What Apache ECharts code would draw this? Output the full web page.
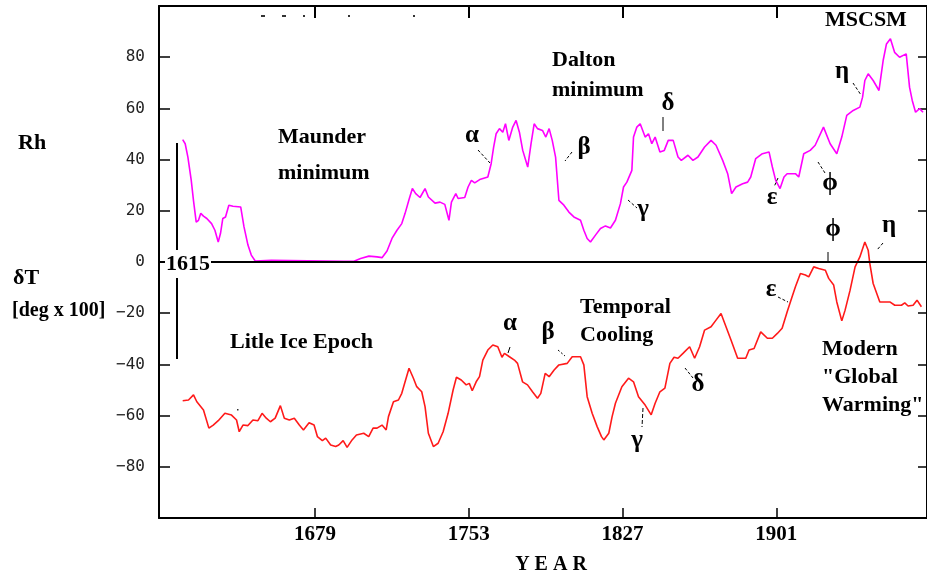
<!DOCTYPE html>
<html>
<head>
<meta charset="utf-8">
<script src="https://cdn.jsdelivr.net/npm/echarts@6/dist/echarts.min.js"></script>
<style>html,body{margin:0;padding:0;background:#fff;}#c{width:927px;height:577px;}</style>
</head>
<body>
<div id="c"></div>
<script>
// ---- data ----
var rhYears = [1615.4,1616.6,1617.9,1619.5,1620.6,1621.9,1623,1624.1,1625.4,1627,1629.3,1630.9,1632.5,1633.6,1634.7,1636,1637.6,1639.6,1643.3,1644.9,1646.8,1648.4,1650.3,1658,1693,1697.8,1701,1705,1708.9,1711.3,1713.7,1716.1,1718.5,1720.8,1722.4,1724.3,1725.9,1727.5,1729.6,1732,1733.6,1736.8,1739.2,1741.5,1743.5,1744.7,1746.8,1747.9,1751.1,1752.7,1754.3,1755.9,1758.3,1762.2,1763.8,1765,1766.2,1767.8,1769.4,1770.7,1772.3,1774.2,1775.8,1777.4,1779,1781.4,1783,1784.5,1786.1,1788.5,1790.1,1791.7,1793.2,1794.8,1796.4,1798.8,1801.2,1803.6,1806.8,1808.4,1810,1811.6,1814,1816.4,1818.8,1821.2,1823.6,1826,1827.5,1829.1,1831.5,1832.3,1833.9,1835.5,1837.9,1839.5,1841.1,1842.7,1845,1847.1,1849,1851.4,1853.7,1855.3,1858.5,1860.9,1863.3,1866.5,1869.6,1872,1875.2,1877.6,1879.5,1881.6,1884.8,1887.2,1888.7,1891.1,1894.3,1897.5,1899.1,1900.7,1902.8,1904.7,1906.2,1910.2,1911.8,1914.2,1917.3,1919.7,1923.7,1926.9,1930.1,1932.5,1934.9,1938,1941.2,1942.5,1943.6,1945.2,1947.6,1950.4,1952.4,1954,1955.9,1957.9,1960.3,1963.5,1965.1,1966.4,1968,1969.9,1971.6];
var rhValues = [47.8,46.2,41,32,24,15.6,16.3,19,17.9,17,15,12.4,7.8,11.2,17,17.6,22.2,21.8,21.5,13.7,6.6,2.7,0.4,0.7,0.3,0.3,1.4,2.3,2,1.7,4.3,9.2,12.4,15,19,24.4,28.7,26.7,25.2,28.7,25.4,23,23.4,22.5,16.3,23.4,26.7,24.8,25.2,29.3,31.9,30.9,32.2,33.2,38.4,44.9,50.1,52.1,50.7,54,47.5,52.7,55.3,50.7,43.6,37.1,46.2,54,52.1,51.4,48.8,52.1,47.5,41,24.1,22.2,19.5,17.6,16.3,12.4,9.2,7.8,10.5,13.1,14.1,13.3,16.3,22.8,29.3,31.2,35.8,48.8,52.7,54,48.8,50.1,46.2,48.8,43,43.6,47.5,47.5,41,39.7,41.7,39.7,41,44.9,47.5,45.6,39.7,34.5,26.7,29.3,30.6,31.2,33.2,40.4,42.3,43,37.1,31.9,28.7,33.2,34.5,34.5,33.2,42.3,43.6,45.6,52.7,46.2,42.3,48.8,57.3,59.2,60.5,64.4,70.9,73.5,70.9,67,78.7,85.2,87.2,81.9,80,81.3,68.3,63.1,58.5,59.9,58.5];

var dtYears = [1615.4,1618.2,1620.6,1622.2,1625.4,1628,1630.1,1632.5,1635.7,1638.9,1641.3,1642.6,1644.4,1646.8,1649.2,1651.6,1653.6,1655.6,1657.6,1659.9,1662.4,1664.3,1666.7,1669.1,1671.5,1673.5,1676.2,1678.6,1680.2,1682.6,1684.2,1686.6,1689,1690.5,1692.6,1694.5,1696.9,1699,1702.5,1704.9,1707,1708.9,1711.3,1713.3,1714.4,1716.8,1719.2,1720.8,1722.4,1724.3,1726.4,1728,1730.4,1732,1733.6,1736,1738.3,1740.7,1743.1,1745.5,1747.1,1749.4,1751.8,1753.3,1754.7,1756.6,1758.2,1759.8,1762.2,1764.6,1767,1769,1770.2,1772.6,1775,1776.5,1778.9,1781.3,1783.7,1786.1,1787.7,1789.8,1791.7,1794.1,1796.4,1800.4,1802.8,1806.8,1808.4,1810,1812.4,1814.8,1816.9,1818,1820.4,1822,1823.6,1826.7,1829.9,1832.3,1834.7,1837.9,1840.8,1842.7,1845,1847.4,1849.8,1851.8,1853.7,1856.1,1859.3,1861.7,1864.1,1866.5,1869.6,1872,1874.4,1876.8,1879.2,1882.4,1886.3,1887.9,1890.3,1893.5,1896.7,1899.1,1901.5,1903.8,1906.2,1908.6,1910.2,1912.6,1915,1916.6,1919,1921.4,1924.6,1926.2,1928.6,1930.1,1932.5,1934.1,1936.5,1938.9,1941.2,1943.6,1945.2,1946,1947.6,1950.8,1955.6,1958,1961.2,1962.8,1964.4,1966.8,1968.7,1970.8];
var dtValues = [-54.2,-53.9,-51.9,-54.6,-57.8,-64.9,-63.7,-62,-59.1,-59.8,-61.7,-66.3,-63.7,-63.9,-61.7,-62,-59.1,-61,-62.4,-61,-56.1,-61,-61.7,-61,-63.7,-65.6,-62.8,-63.7,-68.2,-69.8,-68.8,-71.5,-72.1,-71.5,-69.8,-72.4,-69.5,-67.6,-66.9,-68.2,-64.9,-64.9,-63.7,-65.6,-60.4,-54.6,-53.9,-51.3,-46.8,-41.5,-45.4,-48.7,-50.7,-56.5,-66.9,-72.1,-70.8,-66.3,-59.1,-50,-45,-46.1,-48,-47.4,-50.3,-46.8,-44.8,-38.3,-34.4,-32.4,-33.1,-37.2,-35.7,-37,-38.3,-39.6,-46.8,-48,-50.7,-53.2,-51.3,-43.5,-44.8,-42.2,-40.2,-39.6,-37,-37,-40.2,-52.6,-59.1,-64.3,-68.2,-69.5,-66.9,-60.4,-55.2,-48.7,-45.4,-46.8,-52.6,-55.9,-59.7,-55.2,-50.7,-49.3,-39.6,-37.2,-37.6,-35.7,-33.1,-37.6,-33.1,-26.6,-25.3,-22.7,-20.1,-25.3,-30.5,-37.6,-37.6,-34.4,-33.8,-27.3,-29.8,-29.8,-27.9,-25.9,-19.5,-13.6,-9.7,-4.5,-5.1,-5.8,-1.9,-2.5,-3.2,-6.4,-9,-15.6,-23,-18.8,-11,-1.9,2,7.8,4.6,-0.6,-8.4,-15.6,-15.6,-16.9,-16.9,-16,-17.2,-16.9,-14.9,-17.5];

var yearTicks = [1679, 1753, 1827, 1901];
var valueTicks = [-80, -60, -40, -20, 0, 20, 40, 60, 80];

function zip(a, b) { return a.map(function (v, i) { return [v, b[i]]; }); }

// ---- annotation helpers (pixel-placed text) ----
var SERIF = '"Liberation Serif", "Times New Roman", serif';
var GREEK = '"Liberation Serif", "DejaVu Serif", serif';
function txt(s, x, y, size, extra) {
  var st = { text: s, font: 'bold ' + (size || 22) + 'px ' + SERIF, fill: '#000', textVerticalAlign: 'middle', textAlign: 'left' };
  if (extra) for (var k in extra) st[k] = extra[k];
  return { type: 'text', x: x, y: y, z: 100, style: st };
}
function ctxt(s, x, y, size) { return txt(s, x, y, size, { textAlign: 'center' }); }
function gk(s, x, y) { return txt(s, x, y, 25, { textAlign: 'center', font: 'bold 25px ' + GREEK }); }
function seg(x1, y1, x2, y2, w, dash) {
  return { type: 'line', z: 100, shape: { x1: x1, y1: y1, x2: x2, y2: y2 },
    style: { stroke: '#000', lineWidth: w || 1, lineDash: dash || null } };
}

var graphics = [
  txt('Rh', 18, 143, 22),
  txt('δT', 13, 278, 22),
  txt('[deg x 100]', 12, 311, 20),
  { type: 'text', x: 165, y: 264, z: 110, style: { text: '1615', font: 'bold 22px ' + SERIF, fill: '#000',
    textVerticalAlign: 'middle', backgroundColor: '#fff', padding: [0, 1, 0, 1] } },
  seg(177, 143, 177, 250, 2),
  seg(177, 278, 177, 359, 2),
  txt('Maunder', 278, 137), txt('minimum', 278, 173),
  txt('Dalton', 552, 60), txt('minimum', 552, 90),
  txt('MSCSM', 825, 20),
  txt('Litle Ice Epoch', 230, 342),
  txt('Temporal', 580, 307), txt('Cooling', 580, 335),
  txt('Modern', 822, 349), txt('"Global', 822, 377), txt('Warming"', 822, 405),
  ctxt('Y E A R', 551, 565, 20),
  // greek markers, upper (Rh)
  gk('α', 472, 136), gk('β', 584, 148), gk('γ', 643, 210), gk('δ', 668, 104),
  gk('ε', 772, 198), gk('ϕ', 830, 184), gk('η', 842, 72),
  // greek markers, lower (dT)
  gk('ϕ', 833, 230), gk('η', 889, 226), gk('ε', 771, 290), gk('α', 510, 324),
  gk('β', 548, 333), gk('γ', 637, 441), gk('δ', 698, 385),
  // leaders
  seg(478, 150, 490, 163, 1, [3, 2]), seg(572, 152, 565, 161, 1, [3, 2]),
  seg(628, 200, 637, 208, 1, [3, 2]), seg(663, 117, 663, 131, 1),
  seg(778, 178, 774, 187, 1, [3, 2]), seg(818, 162, 825, 173, 1, [3, 2]),
  seg(853, 83, 861, 95, 1, [3, 2]),
  seg(828, 252, 828, 261, 1), seg(883, 243, 877, 250, 1, [3, 2]),
  seg(778, 297, 788, 302, 1, [3, 2]), seg(510, 347, 508, 353, 1),
  seg(558, 350, 565, 356, 1, [2, 2]), seg(643, 408, 642, 427, 1, [4, 2]),
  seg(685, 368, 693, 378, 1, [3, 2]),
  // small specks near the top frame
  { type: 'rect', z: 100, shape: { x: 261, y: 15, width: 4, height: 2 }, style: { fill: '#333' } },
  { type: 'rect', z: 100, shape: { x: 282, y: 15, width: 4, height: 2 }, style: { fill: '#333' } },
  { type: 'rect', z: 100, shape: { x: 303, y: 15, width: 2, height: 2 }, style: { fill: '#333' } },
  { type: 'rect', z: 100, shape: { x: 348, y: 15, width: 2, height: 2 }, style: { fill: '#333' } },
  { type: 'rect', z: 100, shape: { x: 413, y: 15, width: 2, height: 2 }, style: { fill: '#333' } },
  { type: 'rect', z: 100, shape: { x: 237, y: 409, width: 1.5, height: 1.5 }, style: { fill: '#333' } }
];

var chart = echarts.init(document.getElementById('c'), null, { renderer: 'canvas' });
var axisLine = { show: true, onZero: false, lineStyle: { color: '#000', width: 2 } };
var X_MIN = 1604, X_MAX = 1973.5;
chart.setOption({
  animation: false,
  backgroundColor: '#fff',
  grid: { left: 159, top: 6, width: 774, height: 512, containLabel: false },
  xAxis: [
    { type: 'value', position: 'bottom', min: X_MIN, max: X_MAX,
      axisLine: axisLine,
      axisTick: { show: true, inside: true, length: 10, customValues: yearTicks, lineStyle: { color: '#000', width: 1.5 } },
      axisLabel: { show: true, customValues: yearTicks, margin: 6, color: '#000',
        fontFamily: SERIF, fontWeight: 'bold', fontSize: 21,
        formatter: function (v) { return String(v); } },
      splitLine: { show: false } },
    { type: 'value', position: 'top', min: X_MIN, max: X_MAX,
      axisLine: axisLine,
      axisTick: { show: true, inside: true, length: 12, customValues: yearTicks, lineStyle: { color: '#000', width: 2 } },
      axisLabel: { show: false }, splitLine: { show: false } }
  ],
  yAxis: [
    { type: 'value', position: 'left', min: -100, max: 100, interval: 20,
      axisLine: axisLine,
      axisTick: { show: true, inside: true, length: 11, customValues: valueTicks, lineStyle: { color: '#000', width: 1.5 } },
      axisLabel: { show: true, customValues: valueTicks, margin: 14, color: '#222',
        fontFamily: '"DejaVu Sans Mono", monospace', fontSize: 16,
        formatter: function (v) { return v < 0 ? '\u2212' + (-v) : String(v); } },
      splitLine: { show: false } },
    { type: 'value', position: 'right', min: -100, max: 100, interval: 20,
      axisLine: axisLine,
      axisTick: { show: true, inside: true, length: 9, customValues: valueTicks, lineStyle: { color: '#000', width: 1.5 } },
      axisLabel: { show: false }, splitLine: { show: false } }
  ],
  series: [
    { name: 'dT', type: 'line', xAxisIndex: 0, yAxisIndex: 0, data: zip(dtYears, dtValues),
      symbol: 'none', lineStyle: { color: '#ff1a1a', width: 1.6 }, z: 3,
      markLine: { silent: true, symbol: ['none', 'none'], label: { show: false },
        lineStyle: { color: '#000', width: 2, type: 'solid' }, data: [{ yAxis: 0 }] } },
    { name: 'Rh', type: 'line', xAxisIndex: 0, yAxisIndex: 0, data: zip(rhYears, rhValues),
      symbol: 'none', lineStyle: { color: '#ff00ff', width: 1.6 }, z: 4 }
  ],
  graphic: graphics
});
</script>
</body>
</html>
